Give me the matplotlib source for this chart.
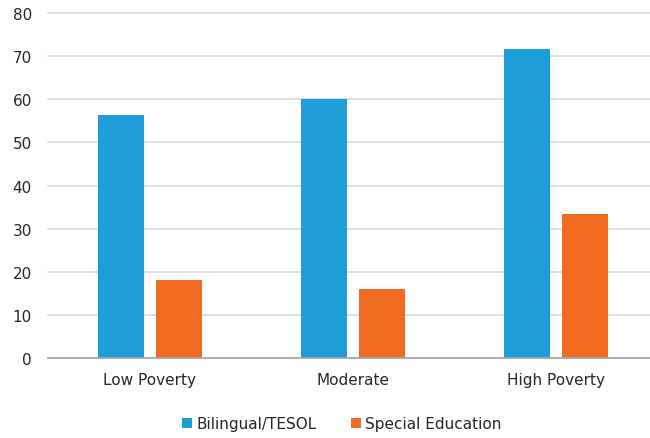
import matplotlib.pyplot as plt
import numpy as np

categories = ["Low Poverty", "Moderate", "High Poverty"]
bilingual = [56.4, 60.0, 71.6]
special_ed = [18.2, 16.1, 33.4]

plt.rcParams["font.family"] = ["DejaVu Sans"]

fig = plt.figure(figsize=(6.5, 4.39), dpi=100)
# plot area runs off the right edge of the figure
ax = fig.add_axes([0.0746, 0.1815, 0.937, 0.787])

x = np.arange(len(categories))
w = 0.227
gap = 0.059
ax.bar(x - (w + gap) / 2, bilingual, w, color="#1f9dd9", label="Bilingual/TESOL", zorder=3)
ax.bar(x + (w + gap) / 2, special_ed, w, color="#f26b22", label="Special Education", zorder=3)

ax.set_xlim(-0.5, 2.5)
ax.set_ylim(0, 80)
ax.set_yticks(range(0, 81, 10))
ax.set_xticks(x)
ax.set_xticklabels(categories)
ax.yaxis.grid(True, color="#d9d9d9", linewidth=1.2, zorder=0)
for gl in ax.get_ygridlines():
    gl.set_clip_on(False)
ax.tick_params(axis="both", length=0, labelsize=11, colors="#262626")
ax.tick_params(axis="y", pad=12)
ax.tick_params(axis="x", pad=10)

for side in ["top", "right", "left"]:
    ax.spines[side].set_visible(False)
ax.spines["bottom"].set_color("#a6a6a6")
ax.spines["bottom"].set_linewidth(1.2)
ax.spines["bottom"].set_zorder(4)

leg = ax.legend(loc="center", bbox_to_anchor=(342 / 650, 14 / 439), bbox_transform=fig.transFigure,
                ncol=2, frameon=False, fontsize=11, handlelength=0.65, handleheight=0.65,
                handletextpad=0.3, columnspacing=2.2, labelcolor="#262626")

fig.savefig("out.png", dpi=100)
